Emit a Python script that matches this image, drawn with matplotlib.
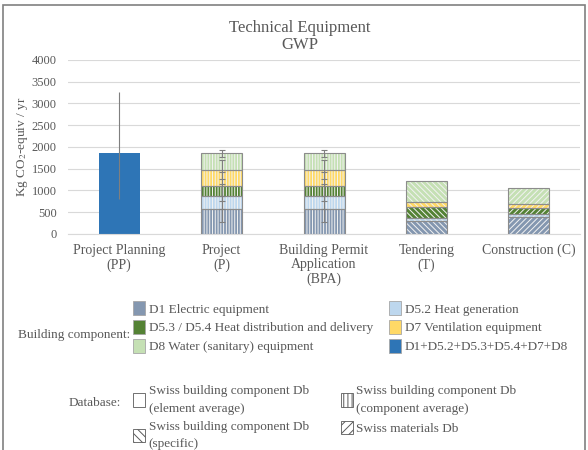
import matplotlib.pyplot as plt
import numpy as np
from matplotlib.patches import Patch, Rectangle

plt.rcParams['font.family'] = ['Liberation Serif', 'DejaVu Serif']
plt.rcParams['mathtext.fontset'] = 'stix'
plt.rcParams['hatch.linewidth'] = 0.7

# Datos
stages = ["Project Planning\n(PP)", "Project\n(P)", "Building Permit\nApplication\n(BPA)",
          "Tendering\n(T)", "Construction (C)"]
d1 = [0, 570, 570, 300, 395]
d52 = [0, 294, 294, 70, 55]
d53 = [0, 232, 232, 262, 155]
d7 = [0, 386, 386, 112, 95]
d8 = [0, 378, 378, 476, 365]
total = [1860, 0, 0, 0, 0]
total_err_low = [1060, 0, 0, 0, 0]
total_err_high = [1400, 0, 0, 0, 0]
err_d1 = [0, 300, 300, 0, 0]
err_d52 = [0, 285, 285, 0, 0]
err_d53 = [0, 330, 330, 0, 0]
err_d7 = [0, 210, 210, 0, 0]
err_d8 = [0, 80, 80, 0, 0]
hatches = ['', '||||||', '||||||', '\\\\\\\\\\\\', '//////']

comp_labels = ["D1 Electric equipment", "D5.2 Heat generation",
               "D5.3 / D5.4 Heat distribution and delivery", "D7 Ventilation equipment",
               "D8 Water (sanitary) equipment", "D1+D5.2+D5.3+D5.4+D7+D8"]
db_labels = ["Swiss building component Db\n(element average)",
             "Swiss building component Db\n(component average)",
             "Swiss building component Db\n(specific)",
             "Swiss materials Db"]

colors = ["#8497B0", "#BDD7EE", "#548235", "#FFD966", "#C5E0B4", "#2E75B6"]
txt = "#595959"

fig = plt.figure(figsize=(5.88, 4.5), dpi=100)
ax = fig.add_axes([0.1156, 0.48, 0.871, 0.3867])

x = np.arange(len(stages))
w = 0.4
series = [d1, d52, d53, d7, d8]
errs = [err_d1, err_d52, err_d53, err_d7, err_d8]
bottom = np.zeros(len(stages))
for vals, col, er in zip(series, colors[:5], errs):
    vals = np.array(vals, dtype=float)
    for i in range(len(stages)):
        if vals[i] == 0:
            continue
        ax.bar(x[i], vals[i], w, bottom=bottom[i], color=col, edgecolor="#F2F2F2",
               hatch=hatches[i], linewidth=0, zorder=2)
        ax.bar(x[i], vals[i], w, bottom=bottom[i], facecolor="none",
               edgecolor="#8C8C8C", linewidth=0.8, zorder=3)
    top = bottom + vals
    er = np.array(er, dtype=float)
    m = er > 0
    ax.errorbar(x[m], top[m], yerr=er[m], fmt="none", ecolor="#7F7F7F",
                elinewidth=0.8, capsize=2.5, capthick=0.8, zorder=4)
    bottom = top

ax.bar(x, total, w, color=colors[5], zorder=2)
tm = np.array(total) > 0
ax.errorbar(x[tm], np.array(total)[tm],
            yerr=[np.array(total_err_low)[tm], np.array(total_err_high)[tm]],
            fmt="none", ecolor="#7F7F7F", elinewidth=0.8, capsize=0, zorder=4)

ax.set_xlim(-0.5, len(stages) - 0.5)
ax.set_ylim(0, 4000)
ax.set_yticks(np.arange(0, 4001, 500))
ax.yaxis.grid(True, color="#D9D9D9", linewidth=0.8, zorder=0)
ax.set_axisbelow(True)
for s in ["top", "right", "left"]:
    ax.spines[s].set_visible(False)
ax.spines["bottom"].set_color("#D9D9D9")
ax.tick_params(length=0, colors=txt, labelsize=9, pad=8)
ax.tick_params(axis="x", labelsize=10, pad=7)
ax.set_xticks(x)
ax.set_xticklabels(stages, color=txt, linespacing=1.15)
ax.set_ylabel("Kg CO$_2$-equiv / yr", color=txt, fontsize=9.5, labelpad=1)

fig.text(0.51, 0.955, "Technical Equipment\nGWP", ha="center", va="top",
         fontsize=12, color=txt, linespacing=1.1)

# Leyenda componentes
comp_handles = [Patch(facecolor=c, edgecolor="#A6A6A6", linewidth=0.6) for c in colors]
order = [0, 2, 4, 1, 3, 5]
fig.legend([comp_handles[i] for i in order], [comp_labels[i] for i in order],
           loc="upper left", bbox_to_anchor=(0.215, 0.345), ncol=2, frameon=False,
           fontsize=9.5, handlelength=0.9, handleheight=1.2, handletextpad=0.3,
           columnspacing=1.2, labelspacing=0.35, labelcolor=txt, borderpad=0)
fig.text(0.222, 0.255, "Building component:", ha="right", va="center",
         fontsize=9.5, color=txt)

# Leyenda bases de datos
db_hatch = ['', '||||', '\\\\\\\\', '////']
db_handles = [Patch(facecolor="white", edgecolor="#595959", hatch=h, linewidth=0.6)
              for h in db_hatch]
order2 = [0, 2, 1, 3]
leg2 = fig.legend([db_handles[i] for i in order2], [db_labels[i] for i in order2],
                  loc="upper left", bbox_to_anchor=(0.215, 0.158), ncol=2, frameon=False,
                  fontsize=9.5, handlelength=0.9, handleheight=1.2, handletextpad=0.3,
                  columnspacing=2.4, labelspacing=0.45, labelcolor=txt, borderpad=0)
for t in leg2.get_texts():
    t.set_linespacing(1.6)
fig.text(0.205, 0.105, "Database:", ha="right", va="center",
         fontsize=9.5, color=txt)

fig.add_artist(Rectangle((0.005, -0.01), 0.99, 0.999, transform=fig.transFigure,
                         fill=False, edgecolor="#808080", linewidth=1.2))

fig.savefig("out.png", dpi=100)
